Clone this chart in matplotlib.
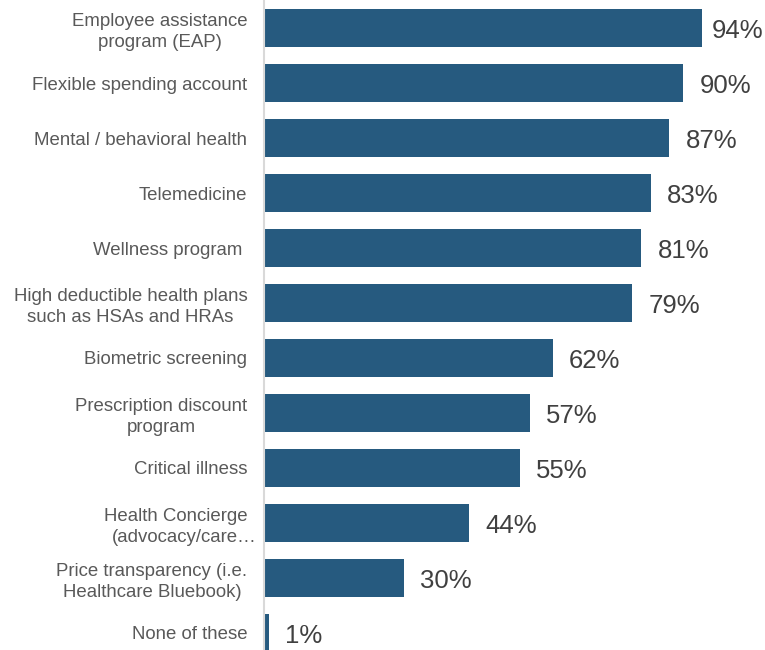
import matplotlib
matplotlib.use("Agg")
import matplotlib.pyplot as plt
from matplotlib.transforms import ScaledTranslation

categories = [
    "Employee assistance\nprogram (EAP)",
    "Flexible spending account",
    "Mental / behavioral health",
    "Telemedicine",
    "Wellness program ",
    "High deductible health plans\nsuch as HSAs and HRAs",
    "Biometric screening",
    "Prescription discount\nprogram",
    "Critical illness",
    "Health Concierge   \n(advocacy/care\u2026",
    "Price transparency (i.e.\nHealthcare Bluebook)",
    "None of these",
]
values = [94, 90, 87, 83, 81, 79, 62, 57, 55, 44, 30, 1]

plt.rcParams["font.family"] = ["Liberation Sans", "DejaVu Sans"]

fig = plt.figure(figsize=(7.65, 6.5), dpi=100)
ax = fig.add_axes([264 / 765, 0, 501 / 765, 1])

ypos = list(range(len(categories)))
ax.barh(ypos, values, height=0.69, color="#265a7f", edgecolor="none")

ax.set_xlim(0, 107.5)
ax.set_ylim(11.31, -0.51)

ax.set_yticks(ypos)
ax.set_yticklabels(categories, fontsize=13.4, color="#595959", ha="right",
                   multialignment="center", linespacing=1.32)
ax.tick_params(axis="y", length=0, pad=12)
ax.set_xticks([])

# the truncated concierge label spills slightly past the others
lbl = ax.get_yticklabels()[9]
lbl.set_transform(lbl.get_transform() + ScaledTranslation(0.16, 0, fig.dpi_scale_trans))

for s in ["top", "right", "bottom"]:
    ax.spines[s].set_visible(False)
ax.spines["left"].set_color("#d9d9d9")
ax.spines["left"].set_linewidth(1.5)

# value labels sit just past the bar end, pulled in if they would run off the figure
fig.canvas.draw()
renderer = fig.canvas.get_renderer()
fig_w = fig.bbox.width
dy = -2.0
for y, v in zip(ypos, values):
    t = ax.annotate(f"{v}%", xy=(v, y), xytext=(11.5, dy), textcoords="offset points",
                    va="center", ha="left", fontsize=18.5, color="#404040")
    bb = t.get_window_extent(renderer)
    overflow = bb.x1 - (fig_w - 2)
    if overflow > 0:
        t.set_position((11.5 - overflow * 72 / fig.dpi, dy))

fig.savefig("out.png", dpi=100)
